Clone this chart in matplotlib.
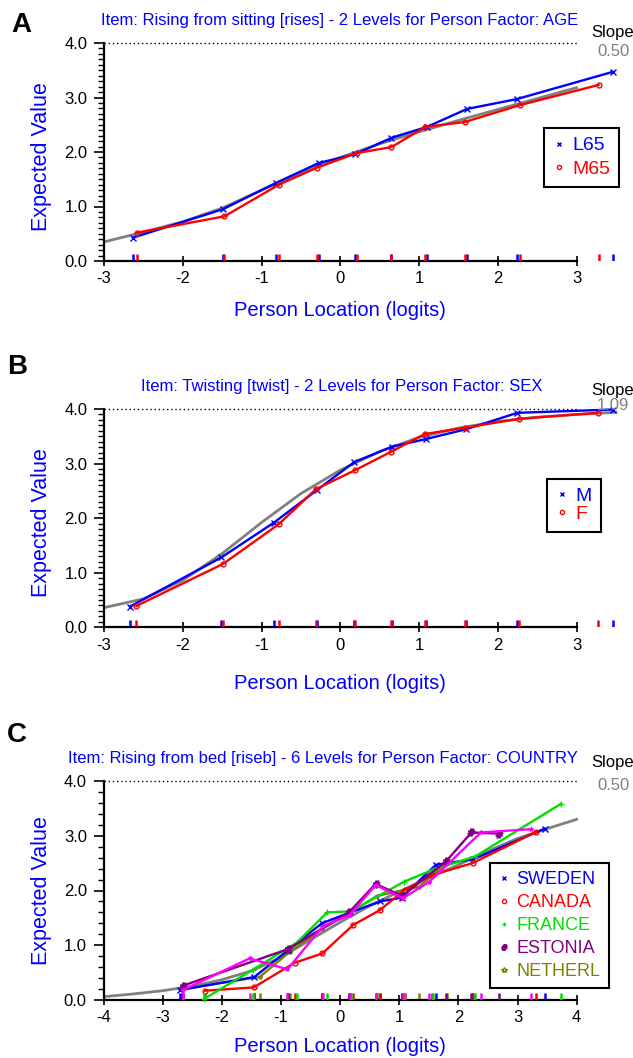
"""
Rasch DIF item characteristic curves: expected value vs person location, three items.
"""

import matplotlib.pyplot as plt
from matplotlib.lines import Line2D
from matplotlib.ticker import MultipleLocator

plt.rcParams['font.family'] = ['Liberation Sans', 'DejaVu Sans']
plt.rcParams['axes.unicode_minus'] = False

# ---- panel A: Rising from sitting, factor AGE
a_curve_x = [-3, -2.5, -2, -1.5, -1, -0.5, 0, 0.5, 1, 1.5, 2, 2.5, 3]
a_curve_y = [0.35, 0.53, 0.72, 0.97, 1.30, 1.62, 1.90, 2.15, 2.37, 2.58, 2.78, 2.98, 3.18]
a_l65_x = [-2.63, -1.49, -0.82, -0.27, 0.19, 0.65, 1.10, 1.61, 2.24, 3.46]
a_l65_y = [0.43, 0.95, 1.43, 1.80, 1.96, 2.26, 2.46, 2.79, 2.97, 3.47]
a_m65_x = [-2.58, -1.47, -0.78, -0.30, 0.21, 0.65, 1.08, 1.58, 2.28, 3.28]
a_m65_y = [0.52, 0.82, 1.40, 1.71, 1.98, 2.09, 2.46, 2.55, 2.86, 3.23]

# ---- panel B: Twisting, factor SEX
b_curve_x = [-3, -2.5, -2, -1.5, -1, -0.5, 0, 0.5, 1, 1.5, 2, 2.5, 3, 3.5]
b_curve_y = [0.36, 0.52, 0.86, 1.35, 1.92, 2.45, 2.88, 3.22, 3.48, 3.65, 3.77, 3.85, 3.90, 3.94]
b_m_x = [-2.67, -1.51, -0.84, -0.30, 0.18, 0.66, 1.09, 1.60, 2.25, 3.46]
b_m_y = [0.38, 1.28, 1.92, 2.51, 3.03, 3.31, 3.45, 3.63, 3.93, 3.99]
b_f_x = [-2.59, -1.49, -0.78, -0.31, 0.19, 0.65, 1.07, 1.59, 2.27, 3.27]
b_f_y = [0.39, 1.16, 1.89, 2.53, 2.88, 3.22, 3.54, 3.66, 3.82, 3.93]

# ---- panel C: Rising from bed, factor COUNTRY
c_curve_x = [-4, -3.5, -3, -2.5, -2, -1.5, -1, -0.5, 0, 0.5, 1, 1.5, 2, 2.5, 3, 3.5, 4]
c_curve_y = [0.06, 0.11, 0.17, 0.25, 0.37, 0.53, 0.78, 1.10, 1.42, 1.72, 1.98, 2.23,
             2.47, 2.72, 2.95, 3.13, 3.30]
c_netherl_x = [-2.68, -1.36, -0.85, -0.30, 0.15, 0.62, 1.34, 1.80]
c_netherl_y = [0.20, 0.42, 0.88, 1.30, 1.58, 1.90, 2.07, 2.50]
c_sweden_x = [-2.71, -1.45, -0.88, -0.31, 0.17, 0.68, 1.04, 1.62, 2.25, 3.46]
c_sweden_y = [0.18, 0.42, 0.91, 1.40, 1.60, 1.80, 1.87, 2.47, 2.57, 3.13]
c_canada_x = [-2.28, -1.46, -0.77, -0.30, 0.22, 0.67, 1.09, 1.55, 2.24, 3.31]
c_canada_y = [0.17, 0.23, 0.68, 0.85, 1.37, 1.64, 2.01, 2.28, 2.50, 3.07]
c_france_x = [-2.30, -1.48, -0.73, -0.22, 0.18, 1.08, 1.57, 2.28, 3.73]
c_france_y = [0.02, 0.55, 1.05, 1.60, 1.62, 2.16, 2.38, 2.62, 3.58]
c_estonia_x = [-2.66, -0.88, 0.15, 0.60, 1.05, 1.79, 2.22, 2.68]
c_estonia_y = [0.26, 0.93, 1.60, 2.12, 1.90, 2.53, 3.06, 3.04]
c_other_x = [-2.66, -1.53, -0.89, -0.29, 0.16, 0.60, 1.06, 1.51, 2.38, 3.22]
c_other_y = [0.18, 0.76, 0.56, 1.35, 1.55, 2.10, 1.86, 2.16, 3.06, 3.12]

W, H = 633, 1058
BLUE, RED, GREEN = '#0000ff', '#ff0000', '#00dd00'
PURPLE, MAGENTA, OLIVE = '#800080', '#ff00ff', '#808000'
GRAY = '#808080'

fig = plt.figure(figsize=(W / 100, H / 100), dpi=100)


def px(x, y):
    return x / W, 1 - y / H


def setup(ax, xlo, xhi, xmax_view, minor):
    ax.set_xlim(xlo, xmax_view)
    ax.set_ylim(0, 4.0)
    for s in ['top', 'right']:
        ax.spines[s].set_visible(False)
    for s in ['left', 'bottom']:
        ax.spines[s].set_linewidth(1.6)
    ax.spines['bottom'].set_bounds(xlo, xhi)
    ax.spines['left'].set_bounds(0, 4)
    ax.set_xticks(range(xlo, xhi + 1))
    ax.set_yticks([0, 1, 2, 3, 4])
    ax.set_yticklabels(['0.0', '1.0', '2.0', '3.0', '4.0'])
    ax.yaxis.set_minor_locator(MultipleLocator(minor))
    ax.tick_params(axis='x', direction='inout', length=7, width=1.2, labelsize=12, pad=4)
    ax.tick_params(axis='y', which='major', direction='out', length=7, width=1.2,
                   labelsize=12, pad=5)
    ax.tick_params(axis='y', which='minor', direction='out', length=4, width=1)
    ax.hlines(4.0, xlo, xhi, colors='black', linestyles=(0, (1, 2)), lw=1, clip_on=False)
    ax.set_ylabel('Expected Value', color=BLUE, fontsize=15.5)
    ax.set_xlabel('Person Location (logits)', color=BLUE, fontsize=14.5)
    ax.patch.set_visible(False)


def series(ax, x, y, color, marker, ms, z):
    ax.plot(x, y, color=color, lw=1.7, marker=marker, ms=ms, mfc='none', mec=color,
            mew=1, zorder=z, clip_on=False)
    ax.vlines(x, 0, 0.13, colors=color, lw=1.8, zorder=z)


def legend(ax, entries, anchor, fs, spacing):
    handles = [Line2D([], [], color=c, marker=m, ms=ms, mfc='none', ls='none', mew=1)
               for _, c, m, ms in entries]
    leg = ax.legend(handles, [e[0] for e in entries], loc='upper left',
                    bbox_to_anchor=anchor, fontsize=fs, labelcolor='linecolor',
                    fancybox=False, framealpha=1, edgecolor='black', handlelength=0.6,
                    handletextpad=0.4, labelspacing=spacing, borderpad=0.45,
                    borderaxespad=0)
    leg.get_frame().set_linewidth(1.5)


# ---- A
axA = fig.add_axes([104 / W, 1 - 261 / H, 519.75 / W, 218 / H])
setup(axA, -3, 3, 3.6, 0.1)
axA.plot(a_curve_x, a_curve_y, color=GRAY, lw=2, zorder=2)
series(axA, a_l65_x, a_l65_y, BLUE, 'x', 4, 3)
series(axA, a_m65_x, a_m65_y, RED, 'o', 3.5, 4)
legend(axA, [('L65', BLUE, 'x', 3), ('M65', RED, 'o', 3)], (0.847, 0.61), 14, 0.3)
axA.yaxis.set_label_coords(-0.10, 0.48)
axA.xaxis.set_label_coords(0.454, -0.185)

# ---- B
axB = fig.add_axes([104 / W, 1 - 627.3 / H, 519.75 / W, 218.3 / H])
setup(axB, -3, 3, 3.6, 0.1)
axB.plot(b_curve_x, b_curve_y, color=GRAY, lw=2, zorder=2)
series(axB, b_m_x, b_m_y, BLUE, 'x', 4, 3)
series(axB, b_f_x, b_f_y, RED, 'o', 3.5, 4)
legend(axB, [('M', BLUE, 'x', 3), ('F', RED, 'o', 3)], (0.853, 0.68), 14, 0.0)
axB.yaxis.set_label_coords(-0.10, 0.48)
axB.xaxis.set_label_coords(0.454, -0.215)

# ---- C
axC = fig.add_axes([103.5 / W, 1 - 1000 / H, 8.3 * 59.15 / W, 219 / H])
setup(axC, -4, 4, 4.3, 0.2)
axC.plot(c_curve_x, c_curve_y, color=GRAY, lw=2, zorder=2)
series(axC, c_netherl_x, c_netherl_y, OLIVE, '*', 3, 2.5)
series(axC, c_sweden_x, c_sweden_y, BLUE, 'x', 4, 3)
series(axC, c_canada_x, c_canada_y, RED, 'o', 3.5, 3.2)
series(axC, c_france_x, c_france_y, GREEN, '+', 4, 3.4)
series(axC, c_estonia_x, c_estonia_y, PURPLE, '$\\#$', 5, 3.6)
series(axC, c_other_x, c_other_y, MAGENTA, '*', 3, 3.8)
legend(axC, [('SWEDEN', BLUE, 'x', 3), ('CANADA', RED, 'o', 3), ('FRANCE', GREEN, '+', 3),
             ('ESTONIA', PURPLE, '$\\#$', 4), ('NETHERL', OLIVE, '*', 4)],
       (0.788, 0.625), 13, 0.33)
axC.yaxis.set_label_coords(-0.105, 0.5)
axC.xaxis.set_label_coords(0.482, -0.17)

# ---- titles, panel letters, slope notes
titles = ['Item: Rising from sitting [rises] - 2 Levels for Person Factor: AGE',
          'Item: Twisting [twist] - 2 Levels for Person Factor: SEX',
          'Item: Rising from bed [riseb] - 6 Levels for Person Factor: COUNTRY']
title_pos = [(340, 20), (342, 387), (323, 759)]
letters = ['A', 'B', 'C']
letter_pos = [(21, 25), (17, 367), (17, 735)]
slopes = ['0.50', '1.09', '0.50']
slope_pos = [(33, 52), (390, 406), (763, 786)]

for t, (tx, ty) in zip(titles, title_pos):
    fig.text(*px(tx, ty), t, color=BLUE, fontsize=12, ha='center', va='center')
for l, (lx, ly) in zip(letters, letter_pos):
    fig.text(*px(lx, ly), l, fontsize=20, fontweight='bold', ha='center', va='center')
for s, (sy, vy) in zip(slopes, slope_pos):
    fig.text(*px(591, sy), 'Slope', fontsize=12, ha='left', va='center')
    fig.text(*px(597, vy), s, color=GRAY, fontsize=12, ha='left', va='center')

fig.savefig('out.png', dpi=100)
